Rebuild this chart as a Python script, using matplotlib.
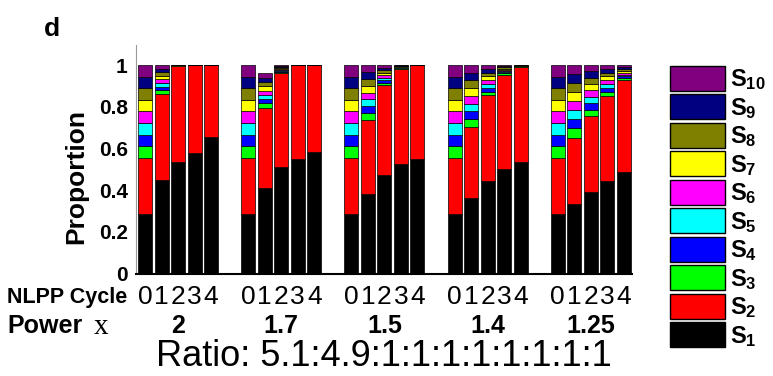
import numpy as np
import matplotlib.pyplot as plt
from matplotlib.patches import Patch

plt.rcParams['font.family'] = ['Liberation Sans', 'DejaVu Sans']
plt.rcParams['mathtext.fontset'] = 'custom'
plt.rcParams['mathtext.rm'] = 'Liberation Sans'
plt.rcParams['mathtext.bf'] = 'Liberation Sans:bold'

# power x for each group, NLPP cycles 0-4 inside each group
powers = ['2', '1.7', '1.5', '1.4', '1.25']
cycles = ['0', '1', '2', '3', '4']

# proportion of S1 (black) per power / cycle
s1 = [[0.283, 0.448, 0.537, 0.579, 0.655],
      [0.283, 0.411, 0.509, 0.548, 0.583],
      [0.283, 0.379, 0.472, 0.525, 0.550],
      [0.283, 0.362, 0.444, 0.503, 0.534],
      [0.283, 0.334, 0.390, 0.443, 0.486]]
# proportion of S2 (red)
s2 = [[0.272, 0.414, 0.457, 0.421, 0.345],
      [0.272, 0.384, 0.454, 0.450, 0.417],
      [0.272, 0.357, 0.431, 0.458, 0.449],
      [0.272, 0.342, 0.410, 0.451, 0.458],
      [0.272, 0.318, 0.366, 0.410, 0.441]]
# proportion of each one of S3..S10
s_rest = [[0.0556, 0.0172, 0.0008, 0.0000, 0.0000],
          [0.0556, 0.0206, 0.0046, 0.0002, 0.0000],
          [0.0556, 0.0329, 0.0121, 0.0021, 0.0001],
          [0.0556, 0.0370, 0.0182, 0.0058, 0.0010],
          [0.0556, 0.0436, 0.0306, 0.0184, 0.0091]]

state_labels = [r'$\mathbf{S_{%d}}$' % k for k in range(1, 11)]
state_colors = ['#000000', '#ff0000', '#00ff00', '#0000ff', '#00ffff',
                '#ff00ff', '#ffff00', '#808000', '#000080', '#800080']

W, H = 773, 376
fig = plt.figure(figsize=(W / 100, H / 100), dpi=100)
ax = fig.add_axes([136 / W, 1 - 273.5 / H, 496 / W, 228.5 / H])

group_step = 6.25
pos = np.array([g * group_step + c for g in range(len(powers)) for c in range(len(cycles))])

a1 = np.array(s1).ravel()
a2 = np.array(s2).ravel()
ar = np.array(s_rest).ravel()

bottom = np.zeros_like(a1)
for k in range(10):
    vals = a1 if k == 0 else (a2 if k == 1 else ar)
    ax.bar(pos, vals, bottom=bottom, width=0.85, color=state_colors[k],
           edgecolor='black', linewidth=0.5)
    bottom = bottom + vals

ax.set_xlim(-0.55, 29.5)
ax.set_ylim(0, 1.096)
ax.set_yticks([0, 0.2, 0.4, 0.6, 0.8, 1])
ax.set_yticklabels(['0', '0.2', '0.4', '0.6', '0.8', '1'], fontweight='bold', fontsize=15)
ax.set_xticks(pos)
ax.set_xticklabels(cycles * len(powers), fontsize=19)
ax.tick_params(axis='x', length=0, pad=8)
ax.tick_params(axis='y', length=0, pad=6)
for s in ['top', 'right']:
    ax.spines[s].set_visible(False)
ax.spines['left'].set_color('#999999')
ax.spines['bottom'].set_linewidth(1.5)

fig.text(76 / W, 1 - 176 / H, 'Proportion', rotation=90, ha='center', va='center',
         fontsize=19, fontweight='bold')
fig.text(44 / W, 1 - 29 / H, 'd', ha='left', va='center', fontsize=19, fontweight='bold')
fig.text(7 / W, 1 - 297 / H, 'NLPP Cycle', ha='left', va='center', fontsize=15.5, fontweight='bold')
fig.text(7 / W, 1 - 326 / H, 'Power', ha='left', va='center', fontsize=18, fontweight='bold')
fig.text(94 / W, 1 - 327 / H, 'x', ha='left', va='center', fontsize=21,
         family=['Liberation Serif', 'DejaVu Serif'])

for g, p in enumerate(powers):
    xc = g * group_step + 2
    ax.text(xc, -0.23, p, transform=ax.get_xaxis_transform(), ha='center', va='center',
            fontsize=18, fontweight='bold')

fig.text(384 / W, 1 - 356 / H, 'Ratio: 5.1:4.9:1:1:1:1:1:1:1:1', ha='center', va='center',
         fontsize=26)

handles = [Patch(facecolor=state_colors[k], edgecolor='black', linewidth=1)
           for k in range(9, -1, -1)]
labels = [state_labels[k] for k in range(9, -1, -1)]
fig.legend(handles, labels, loc='upper left', bbox_to_anchor=(670 / W, 1 - 66 / H),
           frameon=False, borderpad=0, borderaxespad=0, fontsize=17,
           handlelength=2.33, handleheight=1.253, labelspacing=0.09, handletextpad=0.2)

fig.savefig('out.png', dpi=100)
